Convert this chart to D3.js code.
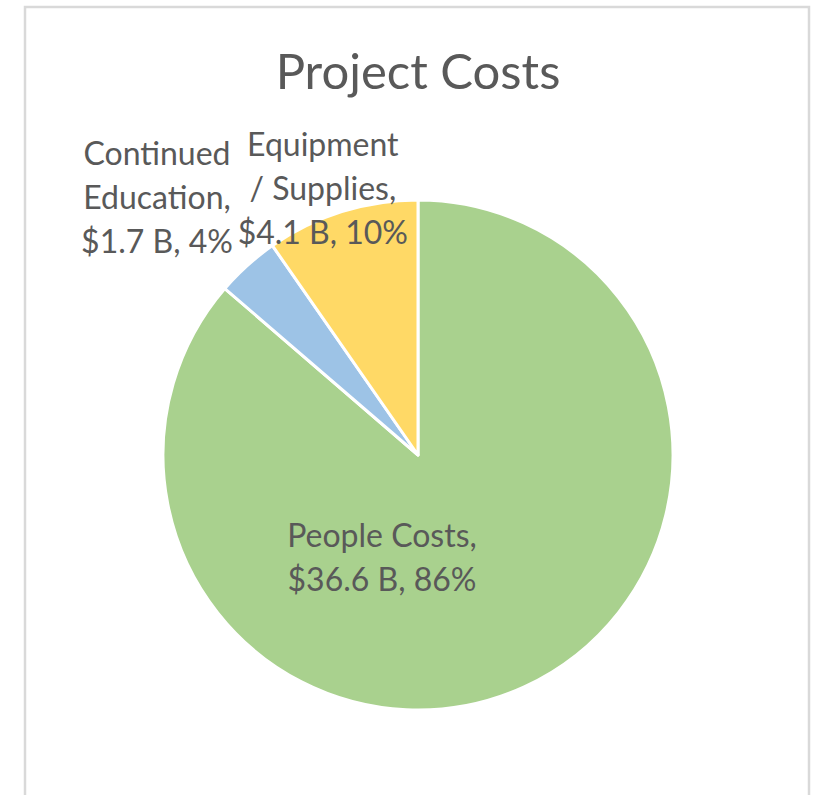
<!DOCTYPE html>
<html>
<head>
<meta charset="utf-8">
<script src="https://cdn.jsdelivr.net/npm/d3@7"></script>
<style>
  body { margin: 0; background: #fff; }
  text { font-family: Lato, "Open Sans", sans-serif; fill: #595959; }
</style>
</head>
<body>
<svg id="chart" width="820" height="795"></svg>
<script>
let categories = ["People Costs", "Continued Education", "Equipment / Supplies"],
    values = [36.6, 1.7, 4.1],
    percents = ["86%", "4%", "10%"],
    colors = ["#a9d18e", "#9dc3e6", "#ffd966"];

// label lines as Excel wrapped them
let labelLines = [
  ["People Costs,", "$36.6 B, 86%"],
  ["Continued", "Education,", "$1.7 B, 4%"],
  ["Equipment", "/ Supplies,", "$4.1 B, 10%"]
];

let width = 820,
    height = 795,
    cx = 418,
    cy = 455,
    radius = 255;

let data = categories.map((c, i) => ({category: c, value: values[i], pct: percents[i], color: colors[i], lines: labelLines[i]}));

let svg = d3.select("#chart");

svg.append("rect")
  .attr("x", 25).attr("y", 7)
  .attr("width", 784).attr("height", 900)
  .attr("fill", "#fff")
  .attr("stroke", "#d9d9d9")
  .attr("stroke-width", 2.5);

svg.append("text")
  .attr("x", cx).attr("y", 89)
  .attr("text-anchor", "middle")
  .attr("font-size", 49)
  .text("Project Costs");

let pie = d3.pie().sort(null).value(d => d.value);
let arc = d3.arc().innerRadius(0).outerRadius(radius);

let g = svg.append("g").attr("transform", `translate(${cx},${cy})`);
let arcs = pie(data);

g.selectAll("path")
  .data(arcs).enter()
  .append("path")
  .attr("d", arc)
  .attr("fill", d => d.data.color)
  .attr("stroke", "#fff")
  .attr("stroke-width", 3)
  .attr("stroke-linejoin", "round");

// label placement: radius along slice mid angle, plus a nudge
let labelRadius = [0, 357, 268],
    nudge = [[-36, 104], [-22, 9], [-15, -9]];

function labelPos(d, i) {
  if (i === 0) return nudge[0];
  let a = (d.startAngle + d.endAngle) / 2;
  return [Math.sin(a) * labelRadius[i] + nudge[i][0], -Math.cos(a) * labelRadius[i] + nudge[i][1]];
}

let lineH = 44;
arcs.forEach((d, i) => {
  let [x, y] = labelPos(d, i);
  let n = d.data.lines.length;
  let t = g.append("text")
    .attr("text-anchor", "middle")
    .attr("font-size", 32);
  d.data.lines.forEach((line, j) => {
    t.append("tspan")
      .attr("x", x)
      .attr("y", y + (j - (n - 1) / 2) * lineH + 10)
      .text(line);
  });
});
</script>
</body>
</html>
